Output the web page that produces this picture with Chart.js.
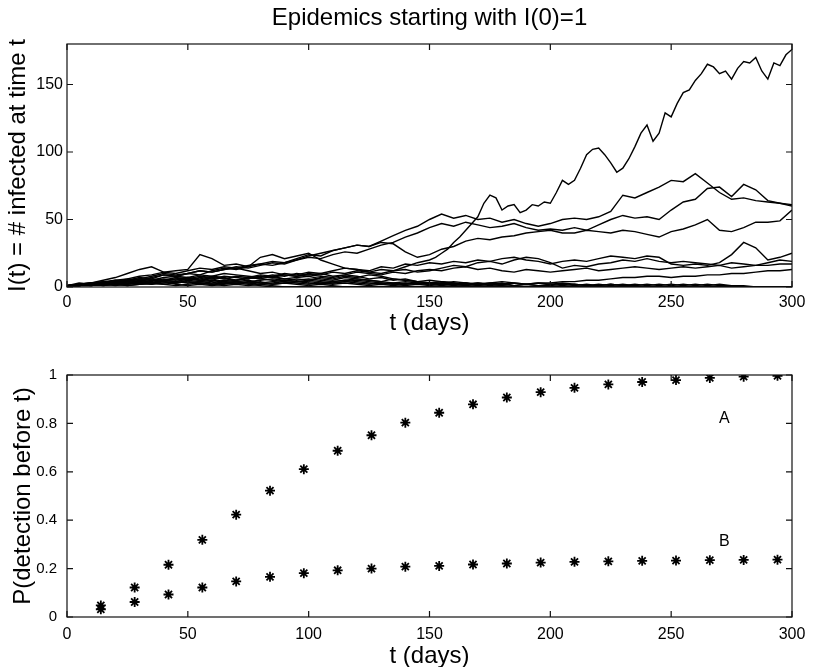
<!DOCTYPE html>
<html lang="en">
<head>
    <meta charset="UTF-8">
    <title>Epidemics starting with I(0)=1</title>
    <script src="https://cdn.jsdelivr.net/npm/chart.js"></script>
    <style>
        body { margin: 0; background: #fff; }
        #wrap { position: relative; width: 818px; height: 667px; }
        canvas { position: absolute; left: 0; }
    </style>
</head>
<body>
<div id="wrap">
    <canvas id="topChart" width="818" height="345" style="top:0"></canvas>
    <canvas id="bottomChart" width="818" height="322" style="top:345px"></canvas>
</div>
<script>
    // time grid for the simulated runs (days)
    const days = [0,5,10,15,20,25,30,35,40,45,50,55,60,65,70,75,80,85,90,95,
        100,105,110,115,120,125,130,135,140,145,150,155,160,165,170,175,180,185,190,195,
        200,205,210,215,220,225,230,235,240,245,250,255,260,265,270,275,280,285,290,295,300];

    // the big run is read more finely once it leaves the crowd
    const run1Days = [0,5,10,15,20,25,30,35,40,45,50,55,60,65,70,75,80,85,90,95,
        100,105,110,115,120,125,130,135,140,145,
        150,152.5,155,157.5,160,162.5,165,167.5,170,172.5,175,177.5,180,182.5,185,187.5,190,192.5,195,197.5,
        200,202.5,205,207.5,210,212.5,215,217.5,220,222.5,225,227.5,230,232.5,235,237.5,240,242.5,245,247.5,
        250,252.5,255,257.5,260,262.5,265,267.5,270,272.5,275,277.5,280,282.5,285,287.5,290,292.5,295,297.5,300];
    const run1 = [1,2,3,2,4,3,5,4,6,5, 7,6,8,7,5,6,8,7,9,8, 10,9,11,10,12,11,13,12,15,18,
        20,22,25,28,33,37,42,47,52,62,68,66,57,60,61,55,57,61,60,63,
        62,70,79,76,79,88,98,102,103,98,92,85,88,95,104,114,120,108,114,129,
        126,136,144,146,153,158,165,163,158,160,154,162,167,166,170,160,154,166,164,172, 176];

    // I(t) for the other runs, every 5 days
    const run2 = [1,1,2,3,5,6,8,9,11,10, 12,14,13,15,14,16,17,19,18,21, 24,23,27,29,31,30,34,38,42,45,
        50,54,51,53,50,51,48,50,47,45, 47,50,51,50,52,56,68,66,70,74, 79,78,84,77,70,65,66,64,63,62, 61];
    const run3 = [1,2,2,4,3,5,7,6,9,8, 10,12,11,13,15,14,16,18,17,20, 22,21,24,26,25,28,31,33,37,40,
        44,47,45,48,46,44,45,47,44,42, 43,42,44,42,46,50,53,51,52,50, 57,63,65,73,74,67,76,72,64,62, 60];
    const run4 = [1,1,2,3,4,6,5,7,9,8, 10,9,12,14,13,15,17,16,18,20, 23,25,27,29,31,30,33,32,26,22,
        24,28,30,34,36,35,37,38,40,41, 42,40,40,42,41,40,42,41,39,37, 41,43,46,50,42,41,44,48,48,49, 57];
    const run5 = [1,1,1,2,3,2,4,3,5,4, 6,5,7,6,8,7,9,8,10,9, 11,10,12,14,13,12,15,14,17,16,
        18,17,19,18,20,19,21,22,20,19, 17,19,20,19,21,23,22,21,23,22, 17,16,17,16,18,24,33,29,20,22, 25];
    const run6 = [1,2,3,5,7,10,13,15,11,12, 13,24,21,16,17,15,22,24,21,23, 25,20,17,14,13,11,10,12,13,11,
        12,14,16,15,18,19,17,20,22,21, 18,14,16,15,17,18,20,19,21,19, 18,19,18,17,16,18,17,16,18,20, 19];
    const run7 = [1,1,2,2,3,4,6,8,10,9, 10,12,11,13,14,12,10,11,9,8, 9,10,8,9,11,10,9,11,10,12,
        13,12,14,15,13,14,12,11,13,12, 11,12,13,14,12,13,14,15,14,13, 14,15,14,15,16,14,15,16,16,17, 17];
    const run8 = [1,1,1,2,1,2,3,2,3,4, 3,4,5,4,3,4,5,6,5,4, 5,4,3,4,5,4,3,2,3,2,
        3,2,2,3,2,3,2,3,2,3, 3,4,4,5,5,6,7,7,8,8, 7,8,8,9,9,10,10,11,12,12, 13];
    const run9 = [1,2,1,2,3,2,4,3,5,6, 5,7,6,8,7,6,8,7,6,5, 6,5,4,5,6,5,4,3,4,3,
        2,3,2,1,0,0,0,0,0,0, 0,0,0,0,0,0,0,0,0,0, 0,0,0,0,0,0,0,0,0,0, 0];
    const run10 = [1,1,2,1,2,3,2,3,2,1, 2,3,2,1,2,1,2,1,0,0, 0,0,0,0,0,0,0,0,0,0,
        0,0,0,0,0,0,0,0,0,0, 0,0,0,0,0,0,0,0,0,0, 0,0,0,0,0,0,0,0,0,0, 0];
    const run11 = [1,1,2,1,2,1,2,3,2,3, 4,3,2,3,4,3,2,3,4,3, 2,3,2,3,2,1,2,1,2,3,
        2,1,2,1,2,1,2,1,2,1, 1,2,1,2,1,2,1,2,1,2, 1,2,1,2,1,1,0,0,0,0, 0];
    const run12 = [1,2,3,4,3,5,4,6,5,7, 6,8,7,6,5,7,6,5,4,6, 5,7,6,8,7,9,8,6,5,4,
        3,4,2,3,1,2,1,0,0,0, 0,0,0,0,0,0,0,0,0,0, 0,0,0,0,0,0,0,0,0,0, 0];
    const run13 = [1,2,2,3,4,5,4,3,5,4, 6,5,4,3,4,5,3,2,3,2, 1,2,1,0,0,0,0,0,0,0,
        0,0,0,0,0,0,0,0,0,0, 0,0,0,0,0,0,0,0,0,0, 0,0,0,0,0,0,0,0,0,0, 0];
    const run14 = [1,1,3,2,4,5,6,5,7,8, 7,9,8,10,9,8,7,9,8,10, 9,8,7,9,8,6,7,5,6,4,
        5,4,3,2,3,2,1,0,0,0, 0,0,0,0,0,0,0,0,0,0, 0,0,0,0,0,0,0,0,0,0, 0];
    const run15 = [1,2,1,3,2,4,3,2,4,3, 5,4,3,5,4,3,4,2,3,4, 3,2,3,4,3,2,3,2,1,2,
        1,2,1,2,1,0,0,0,0,0, 0,0,0,0,0,0,0,0,0,0, 0,0,0,0,0,0,0,0,0,0, 0];
    const run16 = [1,1,2,3,2,1,2,3,4,2, 1,2,1,2,3,2,1,0,0,0, 0,0,0,0,0,0,0,0,0,0,
        0,0,0,0,0,0,0,0,0,0, 0,0,0,0,0,0,0,0,0,0, 0,0,0,0,0,0,0,0,0,0, 0];
    const run17 = [1,3,2,4,5,4,6,5,4,6, 7,5,6,4,5,7,6,8,6,7, 8,6,5,7,6,5,4,6,5,4,
        3,4,3,2,3,2,3,1,2,1, 2,1,2,1,1,2,1,1,0,0, 0,0,0,0,0,0,0,0,0,0, 0];
    const run18 = [1,2,3,2,3,4,3,5,4,3, 4,3,2,3,2,4,3,4,5,4, 4,3,4,5,4,3,2,3,2,3,
        2,3,4,3,2,3,4,3,2,3, 2,3,2,1,2,1,2,1,2,1, 2,1,2,1,2,1,1,0,0,0, 0];

    const runs = [
        {t: run1Days, i: run1},
        ...[run2, run3, run4, run5, run6, run7, run8, run9, run10,
            run11, run12, run13, run14, run15, run16, run17, run18].map(r => ({t: days, i: r}))
    ];

    // detection probabilities
    const checkDays = [14,28,42,56,70,84,98,112,126,140,154,168,182,196,210,224,238,252,266,280,294];
    const probA = [0.048,0.122,0.216,0.319,0.423,0.522,0.611,0.687,0.751,0.803,0.844,0.879,0.907,0.929,0.947,0.961,0.971,0.979,0.988,0.993,0.997];
    const probB = [0.032,0.062,0.093,0.122,0.147,0.166,0.181,0.193,0.200,0.208,0.211,0.217,0.221,0.225,0.228,0.230,0.232,0.233,0.235,0.236,0.237];
    const curveLabels = [{text: 'A', t: 272, p: 0.82}, {text: 'B', t: 272, p: 0.31}];

    const FONT = "'Liberation Sans', Arial, Helvetica, sans-serif";
    Chart.defaults.font.family = FONT;
    Chart.defaults.color = '#000';

    // box round the plot with ticks pointing inwards on all four sides
    const boxTicks = {
        id: 'boxTicks',
        afterDatasetsDraw(chart) {
            const {ctx, chartArea: a, scales: {x, y}} = chart;
            const len = 6;
            ctx.save();
            ctx.strokeStyle = '#111';
            ctx.lineWidth = 1.2;
            ctx.strokeRect(a.left, a.top, a.right - a.left, a.bottom - a.top);
            ctx.beginPath();
            x.ticks.forEach(t => {
                const px = x.getPixelForValue(t.value);
                ctx.moveTo(px, a.bottom); ctx.lineTo(px, a.bottom - len);
                ctx.moveTo(px, a.top); ctx.lineTo(px, a.top + len);
            });
            y.ticks.forEach(t => {
                const py = y.getPixelForValue(t.value);
                ctx.moveTo(a.left, py); ctx.lineTo(a.left + len, py);
                ctx.moveTo(a.right, py); ctx.lineTo(a.right - len, py);
            });
            ctx.stroke();
            ctx.restore();
        }
    };

    const curveText = {
        id: 'curveText',
        afterDatasetsDraw(chart) {
            const {ctx, scales: {x, y}} = chart;
            ctx.save();
            ctx.font = '16px ' + FONT;
            ctx.fillStyle = '#000';
            ctx.textAlign = 'center';
            ctx.textBaseline = 'middle';
            curveLabels.forEach(l => ctx.fillText(l.text, x.getPixelForValue(l.t), y.getPixelForValue(l.p)));
            ctx.restore();
        }
    };

    function xAxis(height, tickPad, titlePad) {
        return {
            type: 'linear', min: 0, max: 300,
            grid: {display: false, drawTicks: false}, border: {display: false},
            ticks: {stepSize: 50, padding: tickPad, font: {size: 16}, maxRotation: 0},
            title: {display: true, text: 't (days)', font: {size: 24, lineHeight: 0.9}, padding: {top: 0, bottom: titlePad}},
            afterFit: s => { s.height = height; }
        };
    }

    function yAxis(opts, title, titlePad, tickPad, tickSize) {
        return Object.assign({
            type: 'linear',
            grid: {display: false, drawTicks: false}, border: {display: false},
            title: {display: true, text: title, font: {size: 24, lineHeight: 0.9}, padding: {top: titlePad, bottom: 0}},
            afterFit: s => { s.width = 67; }
        }, opts, {ticks: Object.assign({padding: tickPad, font: {size: tickSize}, includeBounds: false}, opts.ticks)});
    }

    new Chart(document.getElementById('topChart'), {
        type: 'line',
        data: {
            datasets: runs.map((r, n) => ({
                label: 'run ' + (n + 1),
                data: r.t.map((d, k) => ({x: d, y: r.i[k]})),
                borderColor: '#000',
                borderWidth: 1.4,
                pointRadius: 0,
                tension: 0,
                fill: false
            }))
        },
        options: {
            responsive: false,
            animation: false,
            layout: {padding: {left: 0, right: 26, top: 0, bottom: 0}},
            plugins: {
                legend: {display: false},
                tooltip: {enabled: false},
                title: {
                    display: true,
                    text: 'Epidemics starting with I(0)=1',
                    fullSize: false,
                    font: {size: 24, weight: 'normal', lineHeight: 1.2},
                    padding: {top: 4, bottom: 11.2}
                }
            },
            scales: {
                x: xAxis(58, 6, 11.2),
                y: yAxis({min: 0, max: 180, ticks: {stepSize: 50}}, 'I(t) = # infected at time t', 8, 4, 16)
            }
        },
        plugins: [boxTicks]
    });

    new Chart(document.getElementById('bottomChart'), {
        type: 'scatter',
        data: {
            datasets: [
                {label: 'A', data: checkDays.map((d, k) => ({x: d, y: probA[k]}))},
                {label: 'B', data: checkDays.map((d, k) => ({x: d, y: probB[k]}))}
            ].map(ds => Object.assign(ds, {
                pointStyle: 'star',
                pointRadius: 5,
                borderWidth: 1.8,
                borderColor: '#000',
                backgroundColor: '#000'
            }))
        },
        options: {
            responsive: false,
            animation: false,
            layout: {padding: {left: 0, right: 26, top: 30, bottom: 0}},
            plugins: {legend: {display: false}, tooltip: {enabled: false}},
            scales: {
                x: xAxis(50, 8, 0.2),
                y: yAxis({min: 0, max: 1, ticks: {stepSize: 0.2, callback: v => String(Math.round(v * 10) / 10)}},
                    'P(detection before t)', 13, 10, 15)
            }
        },
        plugins: [boxTicks, curveText]
    });
</script>
</body>
</html>
